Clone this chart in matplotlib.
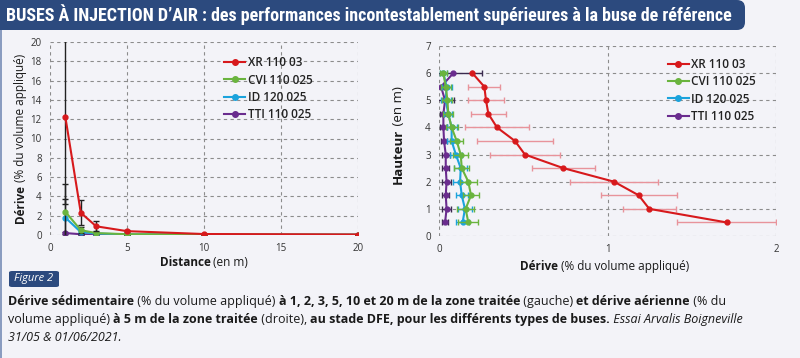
import matplotlib
matplotlib.use("Agg")
import matplotlib.pyplot as plt
from matplotlib import font_manager
from matplotlib.patches import FancyBboxPatch, Rectangle
from matplotlib.lines import Line2D

# ---------------- data ----------------
series_names = ["XR 110 03", "CVI 110 025", "ID 120 025", "TTI 110 025"]
series_colors = ["#d7191c", "#6ab43e", "#1ba3dc", "#6a2c8e"]

# left: sedimentary drift vs distance
distances = [1, 2, 3, 5, 10, 20]
sed_xr = [12.2, 2.3, 0.9, 0.4, 0.1, 0.05]
sed_cvi = [2.4, 0.5, 0.2, 0.08, 0.05, 0.03]
sed_id = [1.8, 0.3, 0.15, 0.06, 0.04, 0.03]
sed_tti = [0.2, 0.08, 0.05, 0.03, 0.03, 0.02]
sed_err_xr = [9.0, 1.3, 0.5, 0.1, 0.02, 0.01]
sed_err_cvi = [2.9, 0.3, 0.1, 0.03, 0.01, 0.01]
sed_err_id = [1.9, 0.2, 0.08, 0.03, 0.01, 0.01]
sed_err_tti = [0.1, 0.05, 0.03, 0.01, 0.01, 0.01]

# right: airborne drift vs height
heights = [6.0, 5.5, 5.0, 4.5, 4.0, 3.5, 3.0, 2.5, 2.0, 1.5, 1.0, 0.5]
air_xr = [0.198, 0.269, 0.279, 0.293, 0.344, 0.451, 0.51, 0.738, 1.039, 1.185, 1.248, 1.707]
air_err_xr = [0.0, 0.094, 0.107, 0.105, 0.19, 0.225, 0.21, 0.186, 0.263, 0.225, 0.156, 0.293]
air_cvi = [0.026, 0.04, 0.05, 0.055, 0.075, 0.105, 0.129, 0.135, 0.174, 0.19, 0.158, 0.174]
air_err_cvi = [0.02, 0.03, 0.03, 0.03, 0.035, 0.04, 0.045, 0.045, 0.05, 0.05, 0.05, 0.06]
air_id = [0.026, 0.045, 0.04, 0.055, 0.075, 0.075, 0.10, 0.129, 0.125, 0.135, 0.154, 0.14]
air_err_id = [0.02, 0.03, 0.03, 0.025, 0.03, 0.03, 0.035, 0.04, 0.04, 0.035, 0.04, 0.04]
air_tti = [0.085, 0.012, 0.036, 0.026, 0.026, 0.03, 0.04, 0.04, 0.045, 0.04, 0.045, 0.036]
air_err_tti = [0.17, 0.02, 0.055, 0.02, 0.02, 0.02, 0.025, 0.02, 0.025, 0.02, 0.025, 0.02]

title_text = "BUSES À INJECTION D\u2019AIR : des performances incontestablement supérieures à la buse de référence"

BG = "#f3f3f8"
NAVY = "#2c4a7e"
FONT = ["Open Sans", "DejaVu Sans"]
plt.rcParams["font.family"] = FONT


def pick_font(cands):
    for c in cands:
        try:
            font_manager.findfont(font_manager.FontProperties(family=c), fallback_to_default=False)
            return c
        except Exception:
            continue
    return "DejaVu Sans"


NARROW = pick_font(["Liberation Sans Narrow", "DejaVu Sans Condensed", "Roboto Condensed",
                    "Open Sans Condensed", "Roboto", "Lato"])

fig = plt.figure(figsize=(8, 3.58), dpi=100, facecolor=BG)
fig.canvas.draw()
renderer = fig.canvas.get_renderer()

# title bar
fig.patches.append(FancyBboxPatch((-0.02, 1 - 30 / 358), 0.02 + 745 / 800, 30 / 358,
                                  boxstyle="round,pad=0,rounding_size=0.01",
                                  transform=fig.transFigure, facecolor=NAVY,
                                  edgecolor="none", mutation_aspect=2.2))
tsize = 13.0
ttl = fig.text(6 / 800, 1 - 15 / 358, title_text, color="white", fontsize=tsize, fontweight="bold",
               family=[NARROW, "DejaVu Sans"], va="center", ha="left")
w = ttl.get_window_extent(renderer).width
if w > 732:
    ttl.set_fontsize(tsize * 732 / w)
# left border line
fig.patches.append(Rectangle((0, 0), 2 / 800, 1 - 30 / 358, transform=fig.transFigure,
                             facecolor="#8a9cc0", edgecolor="none"))


def style_ax(ax):
    ax.set_facecolor(BG)
    for s in ax.spines.values():
        s.set_visible(False)
    ax.grid(True, color="#8c8c8c", linestyle=(0, (3, 3)), linewidth=0.8)
    ax.tick_params(length=0, labelsize=7, colors="#333333", pad=6)
    ax.set_axisbelow(True)


# ---------------- left chart ----------------
axL = fig.add_axes([50 / 800, (358 - 235) / 358, 308 / 800, 193 / 358])
style_ax(axL)
sed_vals = [sed_xr, sed_cvi, sed_id, sed_tti]
sed_errs = [sed_err_xr, sed_err_cvi, sed_err_id, sed_err_tti]
for i in range(3, -1, -1):
    axL.errorbar(distances, sed_vals[i], yerr=sed_errs[i], color=series_colors[i],
                 ecolor="#222222", elinewidth=1.0, capsize=2.5, capthick=1.0,
                 marker="o", markersize=3.5, linewidth=1.5, zorder=3 + (3 - i))
axL.set_xlim(0, 20)
axL.set_ylim(0, 20)
axL.set_xticks([0, 5, 10, 15, 20])
axL.set_yticks(range(0, 21, 2))

# ---------------- right chart ----------------
axR = fig.add_axes([439 / 800, (358 - 236) / 358, 337 / 800, 190 / 358])
style_ax(axR)
air_vals = [air_xr, air_cvi, air_id, air_tti]
air_errs = [air_err_xr, air_err_cvi, air_err_id, air_err_tti]
err_cols = ["#e8939b", "#6ab43e", "#1ba3dc", "#3a2a4e"]
for i in range(4):
    axR.errorbar(air_vals[i], heights, xerr=air_errs[i], color=series_colors[i],
                 ecolor=err_cols[i], elinewidth=1.0, capsize=2.0, capthick=1.0,
                 marker="o", markersize=3.5, linewidth=1.5, zorder=3 + (3 - i))
axR.set_xlim(0, 2)
axR.set_ylim(0, 7)
axR.set_xticks([0, 1, 2])
axR.set_yticks(range(0, 8))


def legend_for(ax, loc):
    handles = [Line2D([], [], color=c, marker="o", markersize=4, linewidth=1.5) for c in series_colors]
    leg = ax.legend(handles, series_names, loc="upper left", bbox_to_anchor=loc, frameon=False,
                    fontsize=8.5, handlelength=1.8, handletextpad=0.2, labelspacing=0.35,
                    borderaxespad=0)
    for t in leg.get_texts():
        t.set_fontweight("semibold")
        t.set_color("#222222")


legend_for(axL, (0.55, 0.95))
legend_for(axR, (0.665, 0.96))


def rich(x, y, segments, size, rotation=0, center=False):
    """segments: list of (text, weight, style); x,y in figure pixels from top-left (baseline)."""
    texts = []
    lens = []
    for txt, wgt, st in segments:
        t = fig.text(0, 0, txt, fontsize=size, fontweight=wgt, fontstyle=st,
                     rotation=rotation, ha="left", va="baseline", color="#1a1a1a",
                     rotation_mode="anchor")
        bb = t.get_window_extent(renderer)
        texts.append(t)
        lens.append(bb.width if rotation == 0 else bb.height)
    total = sum(lens)
    px, py = x, 358 - y
    if center:
        if rotation == 0:
            px -= total / 2
        else:
            py -= total / 2
    for t, L in zip(texts, lens):
        t.set_position((px / 800, py / 358))
        if rotation == 0:
            px += L
        else:
            py += L


# axis labels
rich(204, 266, [("Distance", "bold", "normal"), (" (en m)", "normal", "normal")], 8.5, center=True)
rich(605, 270, [("Dérive", "bold", "normal"), (" (% du volume appliqué)", "normal", "normal")], 8.5, center=True)
rich(24, 138, [("Dérive", "bold", "normal"), (" (% du volume appliqué)", "normal", "normal")], 8.5,
     rotation=90, center=True)
rich(402, 135, [("Hauteur", "bold", "normal"), (" (en m)", "normal", "normal")], 9.5,
     rotation=90, center=True)

# Figure 2 label
fig.patches.append(FancyBboxPatch((9 / 800, (358 - 287) / 358), 50 / 800, 16 / 358,
                                  boxstyle="round,pad=0,rounding_size=0.004",
                                  transform=fig.transFigure, facecolor=NAVY, edgecolor="none"))
fig.text(34 / 800, (358 - 279) / 358, "Figure 2", color="white", fontsize=8, fontstyle="italic",
         ha="center", va="center")

cap = 9
rich(8, 305, [("Dérive sédimentaire", "bold", "normal"), (" (% du volume appliqué) ", "normal", "normal"),
              ("à 1, 2, 3, 5, 10 et 20 m de la zone traitée", "bold", "normal"),
              (" (gauche) ", "normal", "normal"), ("et dérive aérienne", "bold", "normal"),
              (" (% du", "normal", "normal")], cap)
rich(8, 323, [("volume appliqué) ", "normal", "normal"), ("à 5 m de la zone traitée", "bold", "normal"),
              (" (droite), ", "normal", "normal"),
              ("au stade DFE, pour les différents types de buses.", "bold", "normal"),
              (" Essai Arvalis Boigneville", "normal", "italic")], cap)
rich(8, 341, [("31/05 & 01/06/2021.", "normal", "italic")], cap)

fig.savefig("out.png", dpi=100, facecolor=BG)
